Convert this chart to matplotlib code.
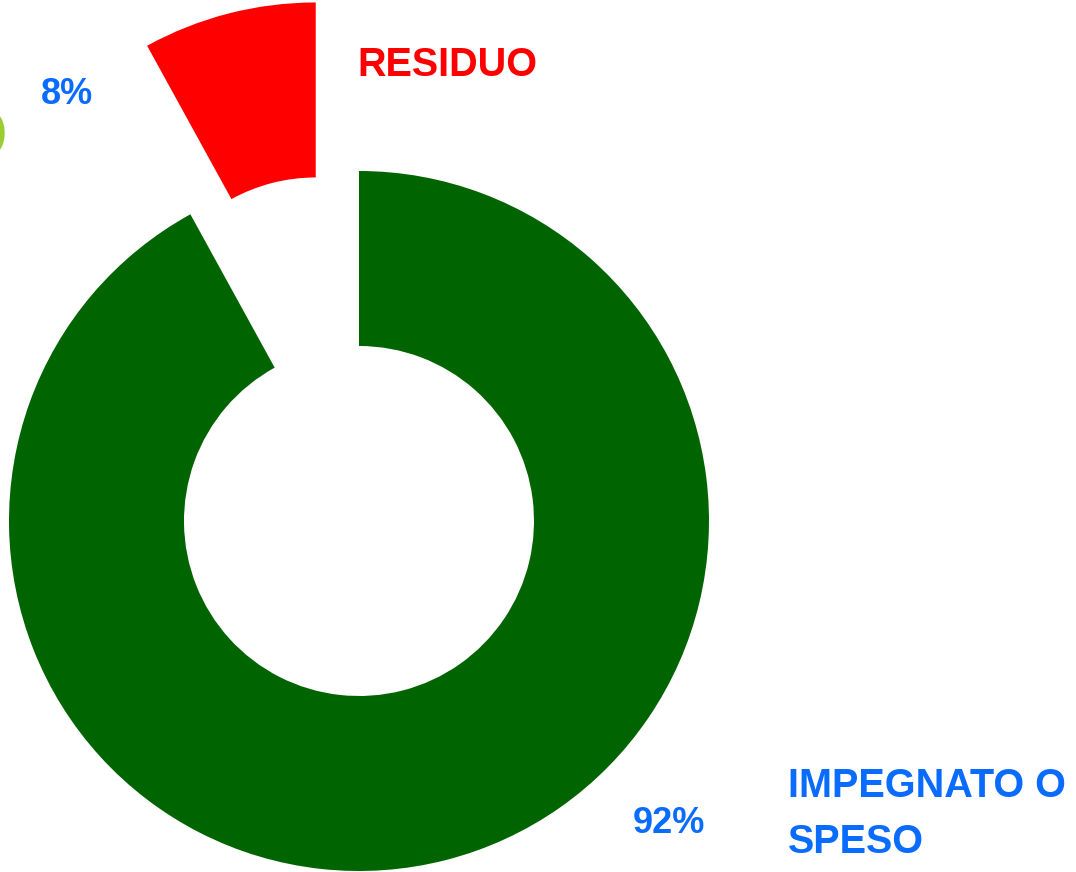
import matplotlib
matplotlib.use("Agg")
import matplotlib.pyplot as plt
from matplotlib.patches import Ellipse

# data
labels = ["IMPEGNATO O\nSPESO", "RESIDUO"]
values = [92, 8]
colors = ["#006400", "#FF0000"]
pct_labels = ["92%", "8%"]

W, H = 1076, 872
fig = plt.figure(figsize=(W / 100, H / 100), dpi=100)
ax = fig.add_axes([0, 0, 1, 1])

cx, cy, r = 359, H - 521, 350
# explode is in data units here (not scaled by radius)
ax.pie(values, colors=colors, startangle=90, counterclock=False,
       explode=[0, 174], radius=r, center=(cx, cy),
       wedgeprops=dict(width=175, linewidth=0), frame=True)

ax.set_xlim(0, W)
ax.set_ylim(0, H)
ax.set_aspect("equal")
ax.axis("off")

# cut-off decoration at the left edge
ax.add_patch(Ellipse((-7, H - 133), 22, 40, color="#9ACD32", zorder=0))

font = ["Liberation Sans", "DejaVu Sans"]
blue = "#0A6BFF"
kw = dict(fontweight="bold", family=font, ha="left", va="baseline")
ax.text(357, H - 76, labels[1], color="#FF0000", fontsize=28.5, **kw)
ax.text(41, H - 104, pct_labels[1], color=blue, fontsize=26, **kw)
ax.text(633, H - 833, pct_labels[0], color=blue, fontsize=26, **kw)
for i, line in enumerate(labels[0].split("\n")):
    ax.text(788, H - 797 - 56 * i, line, color=blue, fontsize=28.5, **kw)

fig.savefig("out.png", dpi=100)
